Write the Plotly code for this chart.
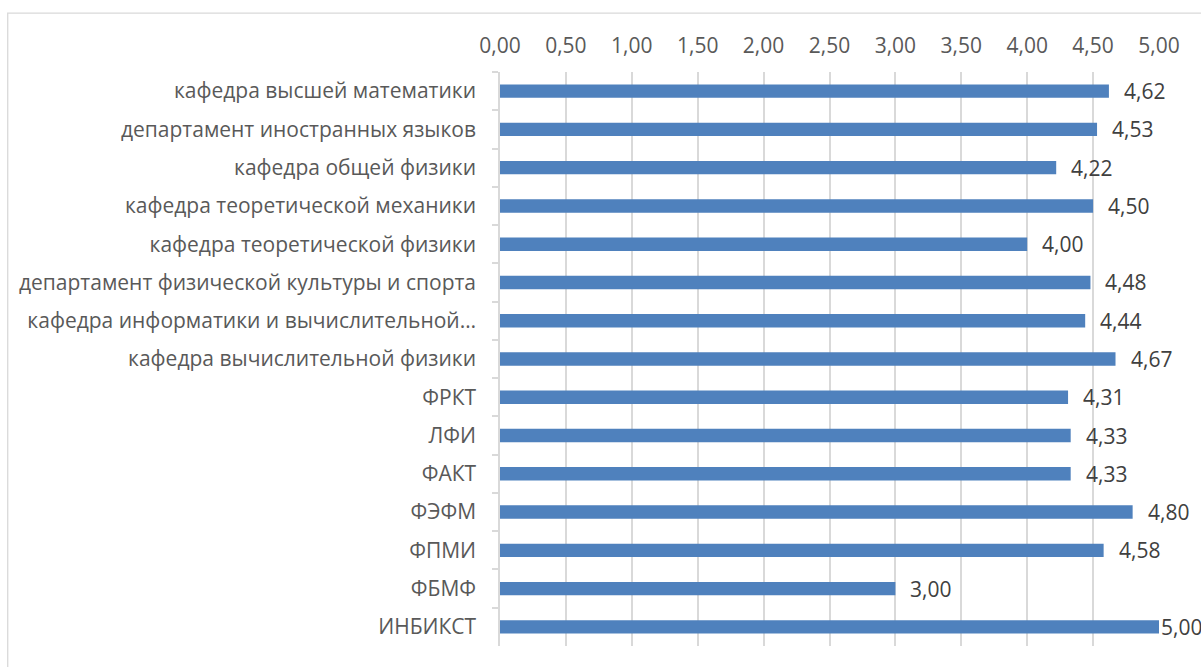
import plotly.graph_objects as go

categories = [
    "кафедра высшей математики",
    "департамент иностранных языков",
    "кафедра общей физики",
    "кафедра теоретической механики",
    "кафедра теоретической физики",
    "департамент физической культуры и спорта",
    "кафедра информатики и вычислительной…",
    "кафедра вычислительной физики",
    "ФРКТ",
    "ЛФИ",
    "ФАКТ",
    "ФЭФМ",
    "ФПМИ",
    "ФБМФ",
    "ИНБИКСТ",
]
values = [4.62, 4.53, 4.22, 4.50, 4.00, 4.48, 4.44, 4.67, 4.31, 4.33, 4.33, 4.80, 4.58, 3.00, 5.00]
tick_vals = [0, 0.5, 1, 1.5, 2, 2.5, 3, 3.5, 4, 4.5, 5]

W, H = 1201, 667
L, R, T, B = 499.5, 42.2, 71.5, 21
pw = W - L - R
ph = H - T - B

FONT = "Open Sans"
FS = 21

fig = go.Figure()
fig.add_trace(go.Bar(
    y=categories, x=values, orientation="h",
    marker=dict(color="#4F81BD", line=dict(width=0)),
    width=0.35,
))

# data labels
for c, v in zip(categories, values):
    shift = 0 if v >= 5 else 13
    fig.add_annotation(
        x=v, y=c, xref="x", yref="y", text=f"{v:.2f}".replace(".", ","),
        showarrow=False, xanchor="left", xshift=shift,
        font=dict(family=FONT, size=FS, color="#404040"),
    )

def px_to_paper_x(px):
    return (px - L) / pw

def px_to_paper_y(py):
    return (H - B - py) / ph

fig.add_shape(
    type="rect", xref="paper", yref="paper",
    x0=px_to_paper_x(7), x1=px_to_paper_x(1210),
    y0=px_to_paper_y(680), y1=px_to_paper_y(12.5),
    line=dict(color="#D9D9D9", width=1.3), fillcolor="rgba(0,0,0,0)", layer="below",
)

fig.update_layout(
    width=W, height=H,
    margin=dict(l=L, r=R, t=T, b=B, pad=0),
    paper_bgcolor="white", plot_bgcolor="white",
    separators=", ",
    showlegend=False,
    font=dict(family=FONT, size=FS, color="#595959"),
    xaxis=dict(
        side="top", range=[0, 5], tickvals=tick_vals, tickformat=".2f",
        showgrid=True, gridcolor="#D9D9D9", gridwidth=1.5,
        zeroline=False, showline=False, ticks="",
        tickfont=dict(family=FONT, size=FS, color="#595959"),
        ticklabelstandoff=14,
    ),
    yaxis=dict(
        type="category", autorange="reversed",
        showgrid=False, zeroline=False,
        showline=True, linecolor="#D9D9D9", linewidth=1.5,
        ticks="outside", ticklen=6, tickcolor="#D9D9D9", tickwidth=1.5,
        tickson="boundaries",
        tickfont=dict(family=FONT, size=FS, color="#595959"),
        ticklabelstandoff=18,
    ),
)

fig.write_html("out.html")
